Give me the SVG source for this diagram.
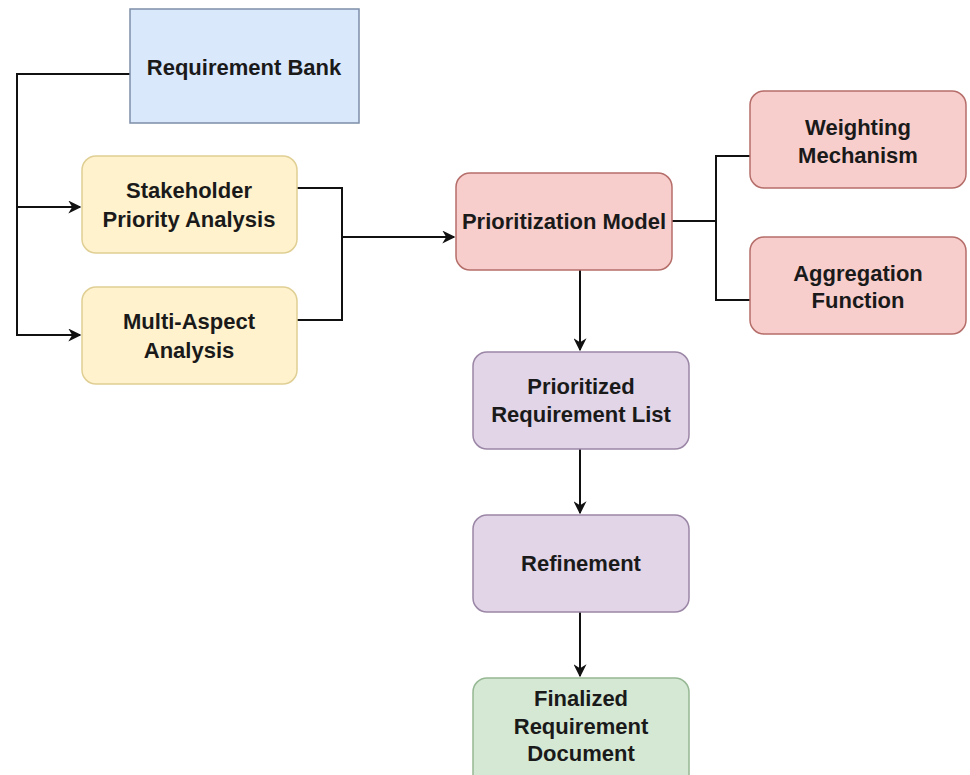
<svg xmlns="http://www.w3.org/2000/svg" width="970" height="775" viewBox="0 0 970 775">
<defs>
<marker id="arr" viewBox="0 0 10 10" refX="9" refY="5" markerWidth="13" markerHeight="13" markerUnits="userSpaceOnUse" orient="auto">
<path d="M0,0 L10,5 L0,10 L3,5 Z" fill="#111"/>
</marker>
</defs>
<style>
text{font-family:"Liberation Sans",Arial,sans-serif;font-weight:bold;font-size:22px;fill:#1a1a1a;text-anchor:middle}
.blue{fill:#dae8fc;stroke:#7d8ea8;stroke-width:1.5}
.yel{fill:#fff2cc;stroke:#e0cf94;stroke-width:1.5}
.red{fill:#f8cecc;stroke:#b56e6a;stroke-width:1.5}
.pur{fill:#e1d5e7;stroke:#9b86a6;stroke-width:1.5}
.grn{fill:#d5e8d4;stroke:#96b893;stroke-width:1.5}
.c{fill:none;stroke:#111;stroke-width:2}
</style>
<rect width="970" height="775" fill="#fff"/>
<g id="connectors">
<path class="c" d="M130,74 H17 V207 H80" marker-end="url(#arr)"/>
<path class="c" d="M17,207 V335 H80" marker-end="url(#arr)"/>
<path class="c" d="M297,188 H342 V320 H297"/>
<path class="c" d="M342,237 H454" marker-end="url(#arr)"/>
<path class="c" d="M672,221 H716 V156 H750"/>
<path class="c" d="M716,221 V300 H750"/>
<path class="c" d="M580,270 V350" marker-end="url(#arr)"/>
<path class="c" d="M580,449 V513" marker-end="url(#arr)"/>
<path class="c" d="M580,612 V676" marker-end="url(#arr)"/>
</g>
<g id="requirement-bank">
<rect class="blue" x="130" y="9" width="229" height="114"/>
<text x="244" y="75">Requirement Bank</text>
</g>
<g id="stakeholder-priority-analysis">
<rect class="yel" x="82" y="156" width="215" height="97" rx="14"/>
<text x="189" y="198">Stakeholder</text>
<text x="189" y="227">Priority Analysis</text>
</g>
<g id="multi-aspect-analysis">
<rect class="yel" x="82" y="287" width="215" height="97" rx="14"/>
<text x="189" y="329">Multi-Aspect</text>
<text x="189" y="358">Analysis</text>
</g>
<g id="prioritization-model">
<rect class="red" x="456" y="173" width="216" height="97" rx="14"/>
<text x="564" y="229">Prioritization Model</text>
</g>
<g id="weighting-mechanism">
<rect class="red" x="750" y="91" width="216" height="97" rx="14"/>
<text x="858" y="135">Weighting</text>
<text x="858" y="163">Mechanism</text>
</g>
<g id="aggregation-function">
<rect class="red" x="750" y="237" width="216" height="97" rx="14"/>
<text x="858" y="281">Aggregation</text>
<text x="858" y="308">Function</text>
</g>
<g id="prioritized-requirement-list">
<rect class="pur" x="473" y="352" width="216" height="97" rx="14"/>
<text x="581" y="394">Prioritized</text>
<text x="581" y="422">Requirement List</text>
</g>
<g id="refinement">
<rect class="pur" x="473" y="515" width="216" height="97" rx="14"/>
<text x="581" y="571">Refinement</text>
</g>
<g id="finalized-requirement-document">
<rect class="grn" x="473" y="678" width="216" height="110" rx="14"/>
<text x="581" y="706">Finalized</text>
<text x="581" y="734">Requirement</text>
<text x="581" y="761">Document</text>
</g>
</svg>
